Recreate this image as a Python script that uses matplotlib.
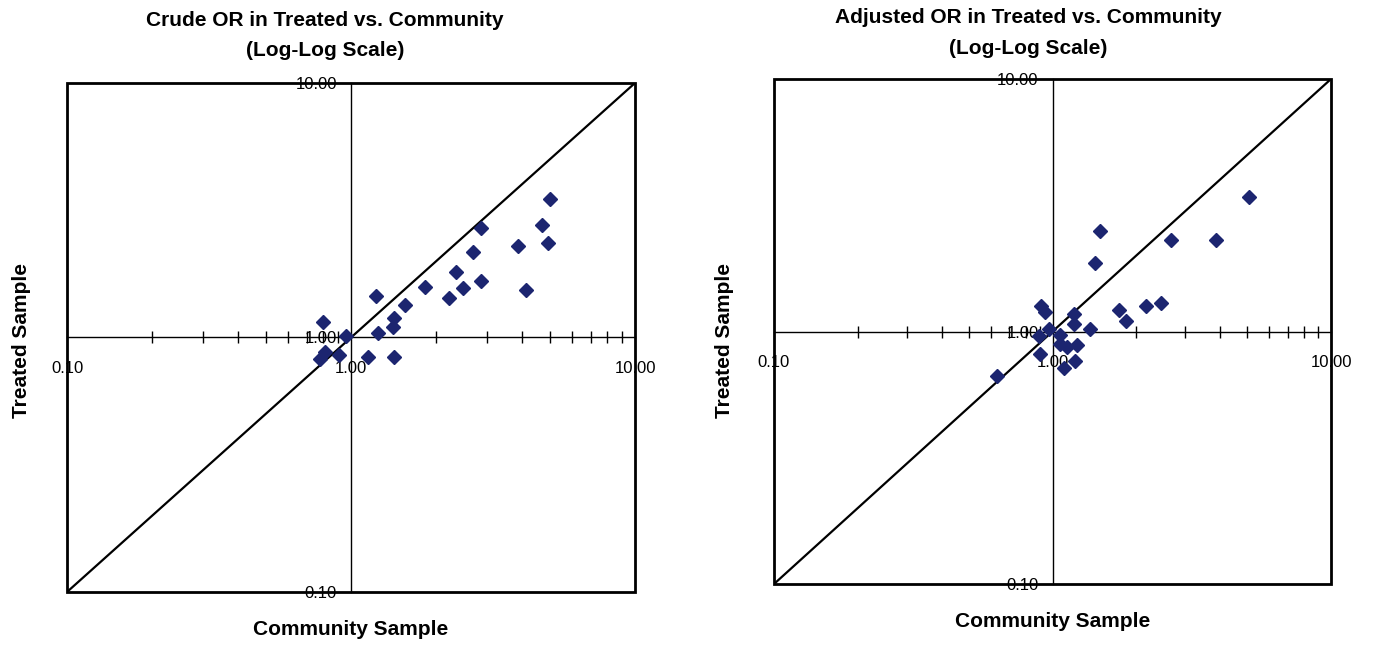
import numpy as np
import matplotlib.pyplot as plt
from matplotlib.patches import Rectangle
from matplotlib.ticker import FixedLocator, LogLocator, NullFormatter

plt.rcParams['font.family'] = ['Liberation Sans', 'DejaVu Sans']

# odds ratios
crude_comm = [0.80, 0.81, 0.775, 0.91, 0.96, 1.15, 1.22, 1.24, 1.415, 1.40, 1.42, 1.55,
              1.82, 2.22, 2.35, 2.48, 2.69, 2.86, 2.86, 3.88, 4.12, 4.69, 4.93, 5.01]
crude_treat = [1.15, 0.875, 0.825, 0.857, 1.01, 0.837, 1.45, 1.04, 1.195, 1.095, 0.837, 1.34,
               1.58, 1.43, 1.81, 1.56, 2.17, 2.70, 1.66, 2.28, 1.54, 2.77, 2.36, 3.51]

adj_comm = [0.63, 0.908, 0.938, 0.97, 0.897, 0.904, 1.062, 1.068, 1.128, 1.102, 1.196, 1.196,
            1.228, 1.207, 1.361, 1.419, 1.487, 1.73, 1.83, 2.17, 2.46, 2.66, 3.87, 5.06]
adj_treat = [0.667, 1.259, 1.192, 1.026, 0.961, 0.817, 0.967, 0.895, 0.867, 0.714, 1.171, 1.074,
             0.882, 0.763, 1.021, 1.86, 2.50, 1.214, 1.098, 1.259, 1.291, 2.30, 2.30, 3.41]

diag = [0.1, 10.0]
ticks = [0.1, 1.0, 10.0]
tick_labels = ['0.10', '1.00', '10.00']

fig = plt.figure(figsize=(13.75, 6.48), dpi=100)

ax1 = fig.add_axes([67/1375, 1-592/648, 568/1375, 509/648])
ax2 = fig.add_axes([774/1375, 1-584/648, 557/1375, 505/648])


def dibujar(ax, cx, cy, titulo, tx, ty):
    ax.set_xscale('log')
    ax.set_yscale('log')
    ax.set_xlim(0.1, 10)
    ax.set_ylim(0.1, 10)

    # ejes cruzando en 1
    ax.spines['left'].set_position(('data', 1.0))
    ax.spines['bottom'].set_position(('data', 1.0))
    ax.spines['left'].set_linewidth(1.0)
    ax.spines['bottom'].set_linewidth(1.0)
    ax.spines['top'].set_visible(False)
    ax.spines['right'].set_visible(False)
    ax.add_patch(Rectangle((0, 0), 1, 1, transform=ax.transAxes, fill=False,
                           lw=2.0, ec='black', clip_on=False, zorder=3))

    ax.xaxis.set_major_locator(FixedLocator(ticks))
    ax.yaxis.set_major_locator(FixedLocator(ticks))
    ax.set_xticklabels(tick_labels)
    ax.set_yticklabels(tick_labels)
    ax.xaxis.set_minor_locator(LogLocator(base=10, subs=np.arange(2, 10)))
    ax.xaxis.set_minor_formatter(NullFormatter())
    ax.yaxis.set_minor_locator(FixedLocator([]))
    ax.tick_params(axis='x', which='major', length=0, pad=17, labelsize=12)
    ax.tick_params(axis='x', which='minor', direction='inout', length=9, width=1)
    ax.tick_params(axis='y', which='both', length=0, pad=10, labelsize=12)

    ax.plot(diag, diag, color='black', lw=1.6, zorder=2)
    ax.plot(cx, cy, 'D', ms=6.8, color='#1c2570', mec='#1c2570', ls='none', zorder=4)

    ax.set_xlabel('Community Sample', fontsize=15, fontweight='bold')
    ax.set_ylabel('Treated Sample', fontsize=15, fontweight='bold')
    ax.text(tx, ty, titulo + '\n(Log-Log Scale)', transform=ax.transAxes,
            ha='center', va='center', fontsize=15, fontweight='bold', linespacing=1.75)


dibujar(ax1, crude_comm, crude_treat, 'Crude OR in Treated vs. Community', 0.454, 1.094)
ax1.xaxis.set_label_coords(0.5, -0.055)
ax1.yaxis.set_label_coords(-0.064, 0.495)

dibujar(ax2, adj_comm, adj_treat, 'Adjusted OR in Treated vs. Community', 0.456, 1.091)
ax2.xaxis.set_label_coords(0.5, -0.055)
ax2.yaxis.set_label_coords(-0.071, 0.483)

fig.savefig('out.png', dpi=100)
